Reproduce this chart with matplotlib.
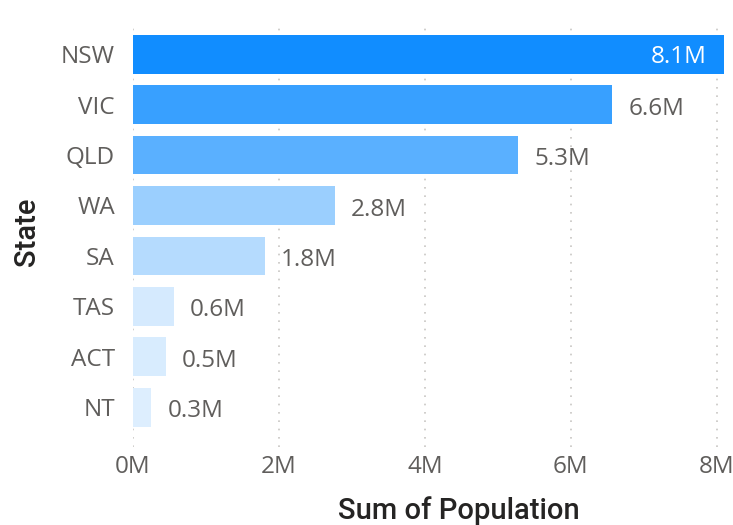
import matplotlib
matplotlib.use("Agg")
import matplotlib.pyplot as plt
import numpy as np
from matplotlib.colors import LinearSegmentedColormap, Normalize
from matplotlib.ticker import FuncFormatter

states = ["NSW", "VIC", "QLD", "WA", "SA", "TAS", "ACT", "NT"]
population = [8.1, 6.57, 5.28, 2.77, 1.81, 0.56, 0.45, 0.25]  # millions
value_labels = ["8.1M", "6.6M", "5.3M", "2.8M", "1.8M", "0.6M", "0.5M", "0.3M"]
xticks = [0, 2, 4, 6, 8]

fig = plt.figure(figsize=(7.33, 5.25), dpi=100)
ax = fig.add_axes([0.1814, 0.1486, 0.8063, 0.798])

cmap = LinearSegmentedColormap.from_list("pbi", ["#DDEEFE", "#118DFF"])
norm = Normalize(vmin=min(population), vmax=max(population))
colors = [cmap(norm(v)) for v in population]

y = np.arange(len(states))
ax.barh(y, population, height=0.77, color=colors, zorder=2)

ax.set_xlim(0, 8.1)
ax.set_ylim(7.79, -0.52)

ax.set_xticks(xticks)
ax.xaxis.set_major_formatter(FuncFormatter(lambda v, p: f"{int(v)}M"))
ax.set_yticks(y)
ax.set_yticklabels(states)

label_font = "Open Sans"
fs = 17.5
for t in ax.get_xticklabels() + ax.get_yticklabels():
    t.set_fontfamily(label_font)
    t.set_fontsize(fs)
    t.set_color("#605E5C")

ax.tick_params(axis="both", length=0)
ax.tick_params(axis="y", pad=13)
ax.tick_params(axis="x", pad=6)

for s in ax.spines.values():
    s.set_visible(False)

for xv in xticks:
    ax.axvline(xv, color="#C8C6C4", linestyle=(0, (1, 4)), linewidth=1.2, zorder=1)

for i, (v, lab) in enumerate(zip(population, value_labels)):
    if i == 0:
        ax.text(v - 0.24, i + 0.05, lab, ha="right", va="center", color="white",
                fontsize=fs, fontfamily=label_font, zorder=3)
    else:
        ax.text(v + 0.22, i + 0.08, lab, ha="left", va="center", color="#605E5C",
                fontsize=fs, fontfamily=label_font, zorder=3)

ax.set_xlabel("Sum of Population", fontsize=21, color="#252423",
              fontfamily="Roboto", fontweight="medium")
ax.xaxis.set_label_coords(0.551, -0.117)
ax.set_ylabel("State", fontsize=21, color="#252423",
              fontfamily="Roboto", fontweight="medium")
ax.yaxis.set_label_coords(-0.155, 0.514)

fig.savefig("out.png", dpi=100)
